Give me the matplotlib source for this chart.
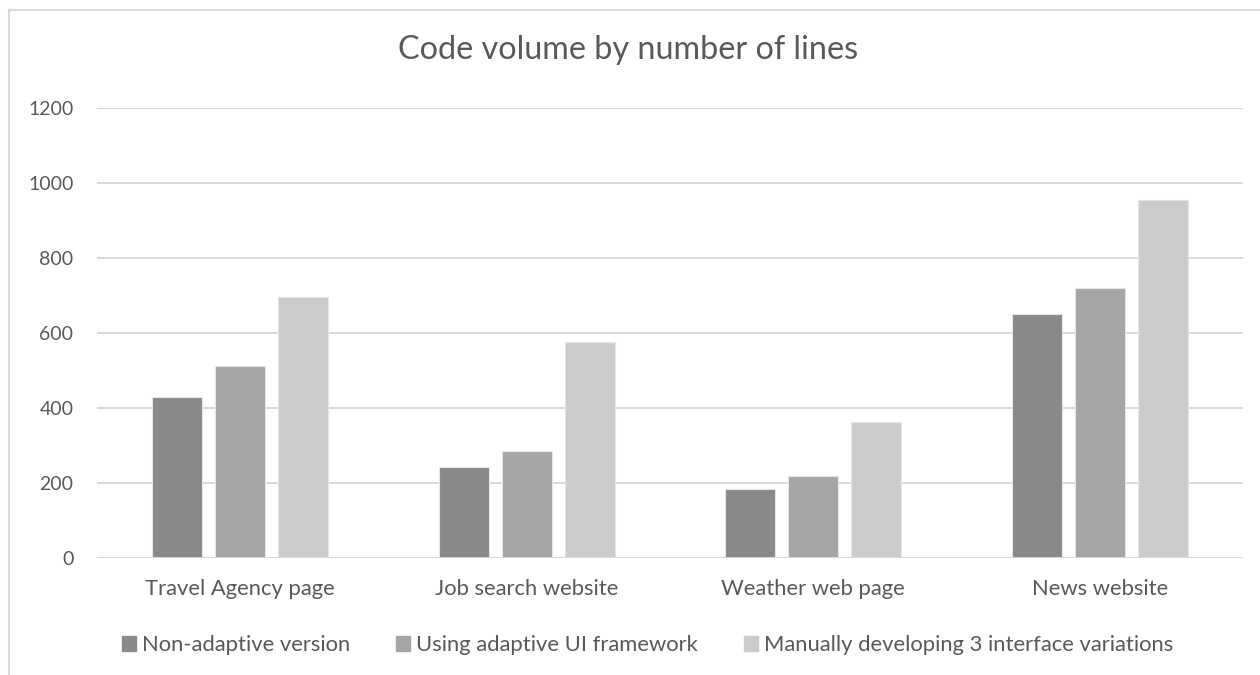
import matplotlib
matplotlib.use("Agg")
import matplotlib.pyplot as plt
import numpy as np
from matplotlib.patches import Rectangle
from matplotlib.lines import Line2D

plt.rcParams['font.family'] = ['Lato', 'DejaVu Sans']

categories = ["Travel Agency page", "Job search website", "Weather web page", "News website"]
series_names = ["Non-adaptive version", "Using adaptive UI framework",
                "Manually developing 3 interface variations"]
non_adaptive = [430, 243, 184, 650]
adaptive_framework = [512, 287, 219, 720]
manual_variations = [697, 577, 363, 955]
y_ticks = [0, 200, 400, 600, 800, 1000, 1200]

colors = ["#898989", "#a5a5a5", "#cbcbcb"]
text_color = "#595959"
grid_color = "#d9d9d9"

fig = plt.figure(figsize=(12.6, 6.75), dpi=100)
ax = fig.add_axes([97 / 1260, 1 - 558.3 / 675, (1243 - 97) / 1260, (558.3 - 108) / 675])

x = np.arange(len(categories))
width = 0.174
step = 0.22
all_series = [non_adaptive, adaptive_framework, manual_variations]
for i, (vals, col) in enumerate(zip(all_series, colors)):
    ax.bar(x + (i - 1) * step, vals, width=width, color=col,
           edgecolor="#e6e6e6", linewidth=0.8, zorder=3)

ax.set_xlim(-0.5, len(categories) - 0.5)
ax.set_ylim(0, 1200)
ax.set_yticks(y_ticks)
ax.set_yticklabels([str(t) for t in y_ticks])
ax.set_xticks(x)
ax.set_xticklabels(categories)
ax.tick_params(axis='both', length=0, colors=text_color)
ax.tick_params(axis='y', pad=17, labelsize=14)
ax.tick_params(axis='x', pad=15, labelsize=15.8)
ax.yaxis.grid(True, color=grid_color, linewidth=1.4, zorder=0)
for s in ax.spines.values():
    s.set_visible(False)
ax.axhline(0, color=grid_color, linewidth=1.4, zorder=4)

fig.text(628 / 1260, 1 - 50 / 675, "Code volume by number of lines",
         ha='center', va='center', fontsize=23.3, color=text_color)

# outer chart frame (top and left edges)
fig.add_artist(Line2D([8.5 / 1260, 1.0], [1 - 10 / 675, 1 - 10 / 675],
                      transform=fig.transFigure, color=grid_color, linewidth=1.5))
fig.add_artist(Line2D([8.5 / 1260, 8.5 / 1260], [0, 1 - 10 / 675],
                      transform=fig.transFigure, color=grid_color, linewidth=1.5))

handles = [Rectangle((0, 0), 1, 1, color=c) for c in colors]
leg = fig.legend(handles, series_names, loc='center', bbox_to_anchor=(647.5 / 1260, 1 - 645 / 675),
                 ncol=3, frameon=False, fontsize=15.8, handlelength=0.64, handleheight=0.64,
                 handletextpad=0.27, columnspacing=2.1, borderpad=0, borderaxespad=0)
for t in leg.get_texts():
    t.set_color(text_color)

fig.savefig("out.png", dpi=100, facecolor="white")
